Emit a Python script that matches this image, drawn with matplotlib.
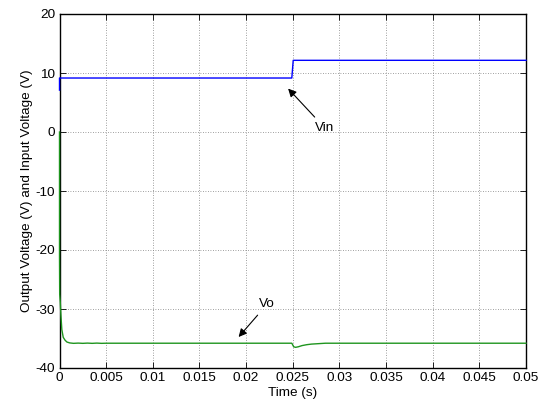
import matplotlib
matplotlib.use('Agg')
import matplotlib.pyplot as plt

# input voltage (blue trace)
vin_t = [0.0, 0.0, 0.02490, 0.02505, 0.05]
vin_v = [7.1, 9.15, 9.15, 12.15, 12.15]

# output voltage (green trace): start-up, steady state, step response
vo_t = [0.0, 0.0, 0.00002, 0.00008, 0.00015, 0.00025, 0.0004, 0.0006, 0.0008,
        0.0011, 0.0015, 0.002, 0.0025, 0.003, 0.0035, 0.004, 0.0045, 0.005,
        0.0249, 0.0251, 0.0253, 0.0256, 0.026, 0.0265, 0.027, 0.0275, 0.028,
        0.0285, 0.05]
vo_v = [0.0, -21.0, -27.5, -28.8, -31.0, -33.5, -34.8, -35.3, -35.6,
        -35.75, -35.82, -35.78, -35.82, -35.78, -35.82, -35.78, -35.82, -35.8,
        -35.8, -36.4, -36.5, -36.4, -36.2, -36.05, -35.95, -35.9, -35.85,
        -35.8, -35.8]

xticks = [0, 0.005, 0.01, 0.015, 0.02, 0.025, 0.03, 0.035, 0.04, 0.045, 0.05]
xtick_labels = ['0', '0.005', '0.01', '0.015', '0.02', '0.025', '0.03',
                '0.035', '0.04', '0.045', '0.05']
yticks = [-40, -30, -20, -10, 0, 10, 20]

plt.rcParams['font.family'] = ['Liberation Sans', 'DejaVu Sans']
plt.rcParams['font.size'] = 9.7
plt.rcParams['axes.unicode_minus'] = False

fig = plt.figure(figsize=(5.45, 4.07), dpi=100)
ax = fig.add_axes([59.5 / 545, 1 - 368 / 407, (526 - 59.5) / 545, (368 - 14) / 407])

# traces drawn above the frame so the start-up edges along t=0 stay visible
ax.plot(vin_t, vin_v, color='#0000ff', lw=1.0, zorder=3, clip_on=False)
ax.plot(vo_t, vo_v, color='#1f951f', lw=1.0, zorder=3, clip_on=False)

ax.set_xlim(0, 0.05)
ax.set_ylim(-40, 20)
ax.set_xticks(xticks)
ax.set_xticklabels(xtick_labels)
ax.set_yticks(yticks)
ax.grid(True, color='0.5', ls=(0, (1, 2)), lw=0.6)
ax.tick_params(direction='in', length=4, width=0.6, top=True, right=True, pad=3)
for s in ax.spines.values():
    s.set_linewidth(1.0)

ax.set_xlabel('Time (s)', labelpad=2)
ax.set_ylabel('Output Voltage (V) and Input Voltage (V)', labelpad=2)

# arrows pointing at each trace
arrow = dict(arrowstyle='-|>', color='k', lw=0.8, mutation_scale=12)
ax.annotate('Vin', xy=(0.0243, 7.7), xytext=(0.0274, 0.7), arrowprops=arrow,
            ha='left', va='center')
ax.annotate('Vo', xy=(0.0190, -35.1), xytext=(0.0214, -29.2), arrowprops=arrow,
            ha='left', va='center')

fig.savefig('out.png', dpi=100)
